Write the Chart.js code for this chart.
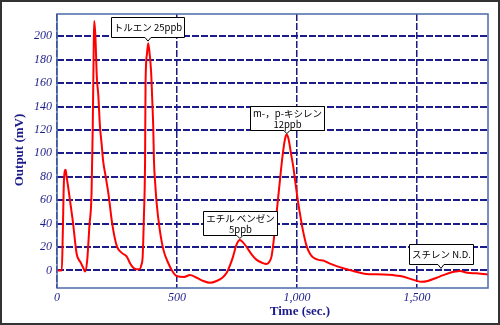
<!DOCTYPE html>
<html>
<head>
<meta charset="utf-8">
<script src="https://cdn.jsdelivr.net/npm/chart.js@4/dist/chart.umd.min.js"></script>
<style>
  body { margin: 0; background: #fff; }
  #wrap { width: 500px; height: 325px; }
</style>
</head>
<body>
<div id="wrap"><canvas id="myChart" width="500" height="325"></canvas></div>
<script>
// retention time (sec.) and detector output (mV)
var times = [0, 18, 20, 24, 29, 36, 40, 46, 54, 66, 82, 98, 110, 117, 126, 135, 144, 149, 153, 155, 160, 166, 172, 179, 186, 192, 203, 214, 230, 249, 270, 290, 305, 317, 330, 343, 352, 357, 362, 367, 369, 375, 380, 386, 392, 398, 401, 404, 410, 415, 428, 443, 462, 485, 500, 530, 554, 580, 610, 637, 665, 690, 707, 722, 734, 748, 762, 775, 790, 810, 832, 855, 874, 887, 894, 901, 908, 918, 929, 940, 950, 957, 965, 975, 985, 992, 1002, 1012, 1025, 1040, 1055, 1068, 1090, 1109, 1135, 1165, 1200, 1235, 1263, 1290, 1330, 1360, 1400, 1430, 1470, 1500, 1519, 1545, 1582, 1610, 1638, 1660, 1679, 1710, 1749, 1775, 1796];
var output = [0, 0, 0, 30, 77, 86, 80, 72, 60, 42, 14, 7, 2, -1, 9, 38, 66, 123, 190, 213, 200, 165, 150, 123, 108, 94, 80, 66, 40, 21, 15, 12, 6, 2.5, 1, 1, 5, 12, 45, 94, 160, 185, 194, 185, 170, 140, 123, 94, 72, 58, 35, 18, 7, -2, -5, -5.5, -4, -6, -9, -10.5, -9, -6, -2, 5, 12, 22, 26, 24, 20, 14, 9, 6.5, 5.5, 8, 12, 22, 35, 55, 77, 98, 112, 116, 112, 100, 88, 77, 62, 49, 34, 21, 14, 11, 9, 8.5, 6, 3.7, 1.5, -0.5, -2, -3, -3.2, -3.4, -4, -4.8, -7, -9, -9.7, -9, -6.2, -4, -2, -1, -0.5, -2, -2.5, -3, -3.4];

var xTicks = [0, 500, 1000, 1500];
var yTicks = [0, 20, 40, 60, 80, 100, 120, 140, 160, 180, 200];

// peak labels
var peakNames = [['トルエン 25ppb'], ['m-，p-キシレン', '12ppb'], ['エチル ベンゼン', '5ppb'], ['スチレン N.D.']];
var peakTimes = [379, 958, 762, 1600];
var peakValues = [195, 116, 26.4, 0.9];

var navy = '#1b1b8a';

var points = times.map(function (t, i) { return { x: t, y: output[i] }; });

var frame = {
    id: 'frame',
    beforeDraw: function (chart) {
        var c = chart.ctx;
        c.save();
        c.fillStyle = '#fff';
        c.fillRect(0, 0, chart.width, chart.height);
        c.restore();
    },
    afterDatasetsDraw: function (chart) {
        var c = chart.ctx, a = chart.chartArea;
        var xs = chart.scales.x, ys = chart.scales.y;
        c.save();
        // plot box
        c.strokeStyle = '#4a6aa8';
        c.lineWidth = 1.5;
        c.strokeRect(a.left, a.top, a.right - a.left, a.bottom - a.top);

        // peak callouts
        c.font = '9.5px "Noto Sans CJK JP"';
        c.textAlign = 'center';
        c.textBaseline = 'middle';
        peakNames.forEach(function (lines, i) {
            var px = xs.getPixelForValue(peakTimes[i]);
            var py = ys.getPixelForValue(peakValues[i]);
            var w = 0;
            lines.forEach(function (s) { w = Math.max(w, c.measureText(s).width); });
            w = Math.round(w + 5);
            var h = lines.length == 1 ? 20 : 24;
            var bx = Math.round(px - w / 2) + 0.5;
            var by = Math.round(py - 5 - h) + 0.5;
            c.beginPath();
            c.moveTo(bx, by);
            c.lineTo(bx + w, by);
            c.lineTo(bx + w, by + h);
            c.lineTo(px + 3, by + h);
            c.lineTo(px, py - 1);
            c.lineTo(px - 3, by + h);
            c.lineTo(bx, by + h);
            c.closePath();
            c.fillStyle = '#fff';
            c.fill();
            c.strokeStyle = '#000';
            c.lineWidth = 1;
            c.stroke();
            c.fillStyle = '#000';
            lines.forEach(function (s, k) {
                var ty = lines.length == 1 ? by + h / 2 : by + 7 + k * 11;
                c.fillText(s, bx + w / 2, ty);
            });
        });

        // axis titles
        c.fillStyle = navy;
        c.font = 'bold 13px "Liberation Serif"';
        c.fillText('Time (sec.)', 300, 312);
        c.translate(20, 150);
        c.rotate(-Math.PI / 2);
        c.fillText('Output (mV)', 0, 0);
        c.restore();

        // outer frame
        c.save();
        c.strokeStyle = '#333';
        c.lineWidth = 2;
        c.strokeRect(1, 1, chart.width - 2, chart.height - 2);
        c.restore();
    }
};

var ctx = document.getElementById('myChart').getContext('2d');
var chart = new Chart(ctx, {
    type: 'line',
    data: {
        datasets: [{
            data: points,
            borderColor: '#ff0000',
            borderWidth: 2,
            pointRadius: 0,
            fill: false,
            cubicInterpolationMode: 'monotone'
        }]
    },
    options: {
        responsive: false,
        animation: false,
        events: [],
        layout: { padding: { left: 0, right: 12, top: 14, bottom: 0 } },
        plugins: { legend: { display: false }, tooltip: { enabled: false } },
        scales: {
            x: {
                type: 'linear',
                min: 0,
                max: 1796,
                afterBuildTicks: function (s) { s.ticks = xTicks.map(function (v) { return { value: v }; }); },
                afterFit: function (s) { s.height = 37; },
                grid: { color: navy, lineWidth: 1.5, drawTicks: false },
                border: { display: false, dash: [7, 2] },
                ticks: {
                    color: navy,
                    padding: 3,
                    maxRotation: 0,
                    font: { family: 'Liberation Serif', size: 12, style: 'italic' },
                    callback: function (v) { return v.toLocaleString('en-US'); }
                }
            },
            y: {
                min: -15,
                max: 219,
                afterBuildTicks: function (s) { s.ticks = yTicks.map(function (v) { return { value: v }; }); },
                afterFit: function (s) { s.width = 57; },
                grid: { color: navy, lineWidth: 2, drawTicks: false },
                border: { display: false, dash: [7, 2] },
                ticks: {
                    color: navy,
                    padding: 5,
                    font: { family: 'Liberation Serif', size: 12, style: 'italic' }
                }
            }
        }
    },
    plugins: [frame]
});
</script>
</body>
</html>
